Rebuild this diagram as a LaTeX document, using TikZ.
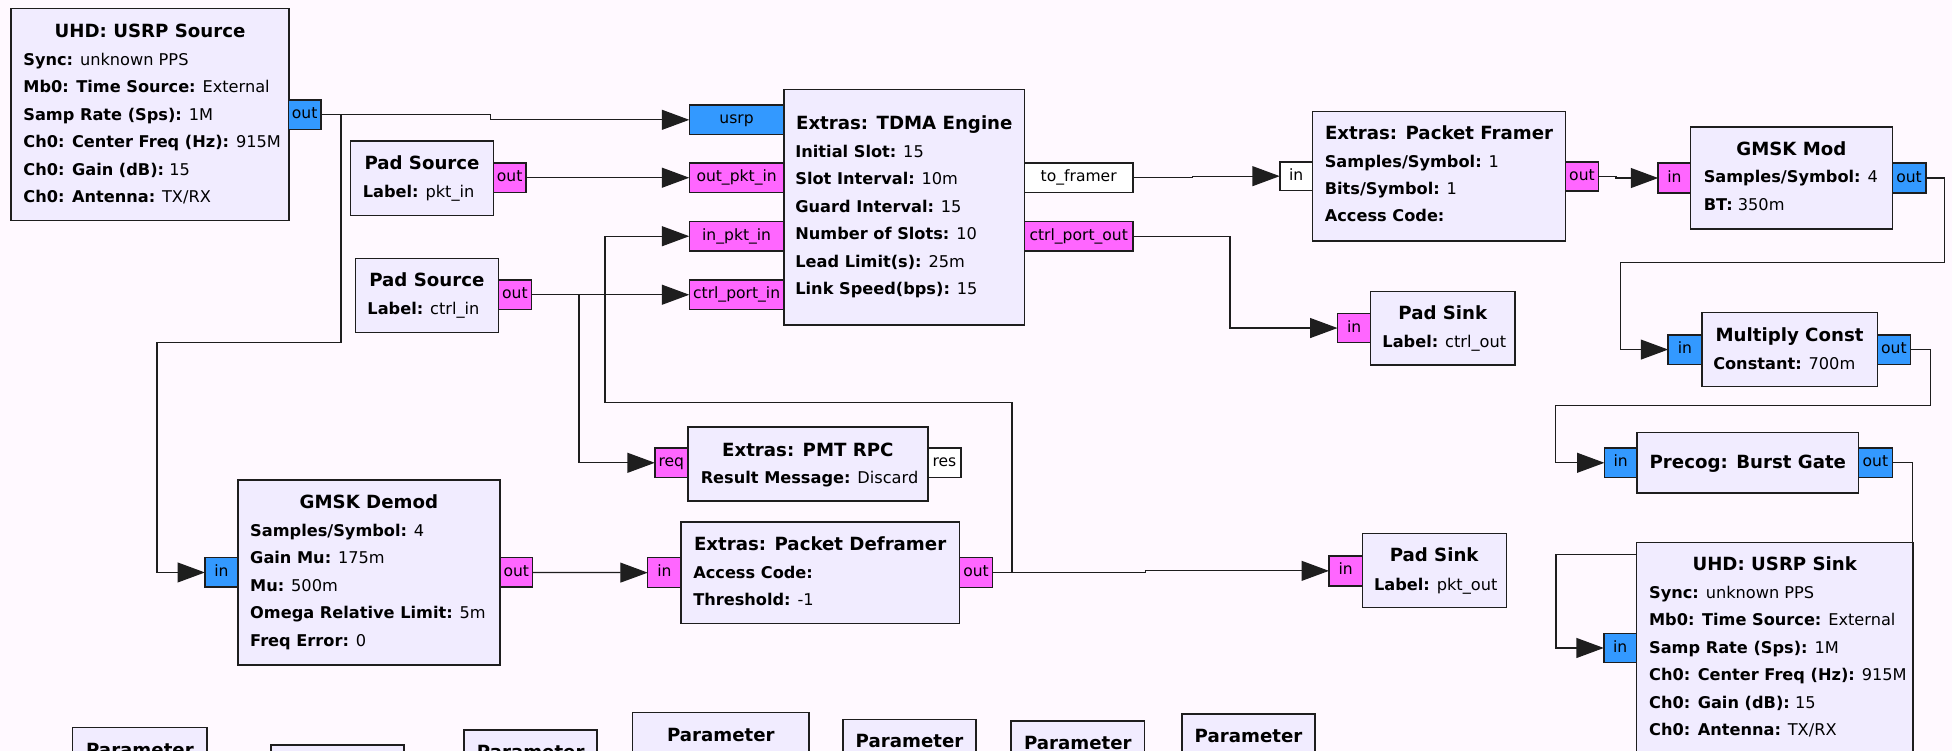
\documentclass[tikz,border=0pt]{standalone}
\usepackage{fontspec}
\setmainfont{DejaVu Sans}
\usetikzlibrary{arrows.meta}

\definecolor{canvas}{HTML}{FFF9FF}
\definecolor{blockfill}{HTML}{F1ECFF}
\definecolor{cplx}{HTML}{3399FF}
\definecolor{bytec}{HTML}{FF66FF}
\definecolor{edge}{HTML}{1E1E1E}

\pgfdeclarelayer{back}
\pgfdeclarelayer{wires}
\pgfsetlayers{back,wires,main}

\tikzset{
  blk/.style={draw=edge, fill=blockfill, line width=1.2pt, inner sep=0pt, outer sep=0pt},
  port/.style={draw=edge, line width=1.2pt, inner sep=0pt, outer sep=0pt,
    font=\fontsize{12.5}{12.5}\selectfont, text height=9pt, text depth=2.5pt},
  cport/.style={port, fill=cplx},
  bport/.style={port, fill=bytec},
  mport/.style={port, fill=white},
  wire/.style={draw=edge, line width=1pt, -{Triangle[length=22pt, width=16pt]}},
  ttl/.style={font=\bfseries\fontsize{14.6}{14.6}\selectfont, anchor=base, inner sep=0pt},
  ptext/.style={font=\fontsize{13}{13}\selectfont, anchor=base west, inner sep=0pt},
}

% block body: name, x1, y1, x2, y2
\newcommand{\blockbox}[5]{%
  \node[blk, anchor=north west, minimum width={(#4-#2)*1pt},
        minimum height={(#5-#3)*1pt}] (#1) at (#2,#3) {};}
% port: style, name, x1, y1, x2, y2, label
\newcommand{\portbox}[7]{%
  \node[#1, anchor=north west, minimum width={(#5-#3)*1pt},
        minimum height={(#6-#4)*1pt}] (#2) at (#3,#4) {#7};}
% block title: name, centre x, centre y, text
\newcommand{\blocktitle}[4]{\node[ttl] (#1-title) at (#2,{#3+5.3}) {#4};}
% parameter lines: name, x, centre y of first line, list
\newcommand{\paramlines}[4]{%
  \foreach \txt [count=\k] in {#4} {%
    \node[ptext] (#1-p\k) at (#2,{#3+4.7+22.05*(\k-1)}) {\txt};}}

\begin{document}
\begin{tikzpicture}[x=1pt,y=-1pt]
\useasboundingbox (0,0) rectangle (1568,603);
\begin{pgfonlayer}{back}
  \fill[canvas] (0,0) rectangle (1568,603);
\end{pgfonlayer}

\begin{scope}
\clip (0,0) rectangle (1568,603);

% ---------------- blocks ----------------
\blockbox{usrpsrc}{9}{6.7}{232}{177.2}
\blocktitle{usrpsrc}{120.5}{25}{UHD: USRP Source}
\paramlines{usrpsrc}{18.6}{47.7}{\textbf{Sync:} unknown PPS,
  \textbf{Mb0: Time Source:} External,
  \textbf{Samp Rate (Sps):} 1M,
  \textbf{Ch0: Center Freq (Hz):} 915M,
  \textbf{Ch0: Gain (dB):} 15,
  \textbf{Ch0: Antenna:} TX/RX}

\blockbox{padsrcA}{281.7}{113.2}{396.3}{173.2}
\blocktitle{padsrcA}{339}{131.2}{Pad Source}
\paramlines{padsrcA}{291.3}{154}{\textbf{Label:} pkt\_in}

\blockbox{padsrcB}{285.4}{207.5}{400.3}{266.9}
\blocktitle{padsrcB}{342.9}{224.9}{Pad Source}
\paramlines{padsrcB}{295}{247.6}{\textbf{Label:} ctrl\_in}

\blockbox{tdma}{629.7}{72}{823}{261}
\blocktitle{tdma}{726.4}{99}{Extras: TDMA Engine}
\paramlines{tdma}{638.7}{121.7}{\textbf{Initial Slot:} 15,
  \textbf{Slot Interval:} 10m,
  \textbf{Guard Interval:} 15,
  \textbf{Number of Slots:} 10,
  \textbf{Lead Limit(s):} 25m,
  \textbf{Link Speed(bps):} 15}

\blockbox{framer}{1054.4}{89.4}{1257.5}{193.6}
\blocktitle{framer}{1156}{106.7}{Extras: Packet Framer}
\paramlines{framer}{1064}{129.5}{\textbf{Samples/Symbol:} 1,
  \textbf{Bits/Symbol:} 1,
  \textbf{Access Code:}}

\blockbox{gmskmod}{1358}{102}{1520}{184}
\blocktitle{gmskmod}{1439}{119.6}{GMSK Mod}
\paramlines{gmskmod}{1368.4}{142}{\textbf{Samples/Symbol:} 4,
  \textbf{BT:} 350m}

\blockbox{mult}{1367}{251}{1508}{310.5}
\blocktitle{mult}{1437.5}{268.8}{Multiply Const}
\paramlines{mult}{1376}{291.8}{\textbf{Constant:} 700m}

\blockbox{burst}{1315}{347.4}{1493}{396}
\blocktitle{burst}{1404}{371}{Precog: Burst Gate}

\blockbox{usrpsink}{1314.5}{435.6}{1536.8}{640}
\blocktitle{usrpsink}{1425.6}{453}{UHD: USRP Sink}
\paramlines{usrpsink}{1324.5}{476}{\textbf{Sync:} unknown PPS,
  \textbf{Mb0: Time Source:} External,
  \textbf{Samp Rate (Sps):} 1M,
  \textbf{Ch0: Center Freq (Hz):} 915M,
  \textbf{Ch0: Gain (dB):} 15,
  \textbf{Ch0: Antenna:} TX/RX}

\blockbox{padsinkA}{1101}{234.3}{1217}{293}
\blocktitle{padsinkA}{1159}{251}{Pad Sink}
\paramlines{padsinkA}{1110.3}{274.4}{\textbf{Label:} ctrl\_out}

\blockbox{padsinkB}{1094.3}{428.5}{1210}{488}
\blocktitle{padsinkB}{1152}{446}{Pad Sink}
\paramlines{padsinkB}{1103.6}{469.3}{\textbf{Label:} pkt\_out}

\blockbox{pmtrpc}{552.5}{342.8}{745.3}{402.5}
\blocktitle{pmtrpc}{648.9}{361}{Extras: PMT RPC}
\paramlines{pmtrpc}{562.7}{383.5}{\textbf{Result Message:} Discard}

\blockbox{deframer}{547}{419.2}{770.6}{500.9}
\blocktitle{deframer}{658.8}{436.6}{Extras: Packet Deframer}
\paramlines{deframer}{556.7}{459.6}{\textbf{Access Code:},
  \textbf{Threshold:} -1}

\blockbox{gmskdemod}{191}{385.5}{401.6}{534.1}
\blocktitle{gmskdemod}{296.3}{403}{GMSK Demod}
\paramlines{gmskdemod}{200.8}{426.2}{\textbf{Samples/Symbol:} 4,
  \textbf{Gain Mu:} 175m,
  \textbf{Mu:} 500m,
  \textbf{Omega Relative Limit:} 5m,
  \textbf{Freq Error:} 0}

% parameter blocks along the bottom edge
\blockbox{paramA}{58.4}{584.5}{166.4}{650}
\blocktitle{paramA}{112.4}{602}{Parameter}
\blockbox{paramB}{217.6}{598.4}{324.5}{660}
\blockbox{paramC}{372.9}{586.4}{479.7}{650}
\blocktitle{paramC}{426.3}{604}{Parameter}
\blockbox{paramD}{508}{572.2}{650}{640}
\blocktitle{paramD}{579}{590.4}{Parameter}
\blockbox{paramE}{677.3}{577.8}{784}{640}
\blocktitle{paramE}{730.6}{595.2}{Parameter}
\blockbox{paramF}{812.3}{579.1}{919.4}{640}
\blocktitle{paramF}{865.8}{596.5}{Parameter}
\blockbox{paramG}{949.4}{573.5}{1056.4}{640}
\blocktitle{paramG}{1002.9}{591.2}{Parameter}

% ---------------- ports ----------------
\portbox{cport}{srcout}{231.6}{80.3}{257.8}{103.9}{out}
\portbox{bport}{psAout}{396.3}{131}{422.5}{154.5}{out}
\portbox{bport}{psBout}{400.3}{225}{426.9}{248.5}{out}
\portbox{cport}{tdusrp}{553.7}{84.5}{629.7}{108}{usrp}
\portbox{bport}{tdout}{553.7}{131}{629.7}{154.5}{out\_pkt\_in}
\portbox{bport}{tdin}{553.7}{178}{629.7}{201.5}{in\_pkt\_in}
\portbox{bport}{tdctrl}{553.7}{225}{629.7}{248.5}{ctrl\_port\_in}
\portbox{mport}{tdframer}{823}{131}{910}{154.5}{to\_framer}
\portbox{bport}{tdctrlout}{823}{178}{910}{201.5}{ctrl\_port\_out}
\portbox{mport}{fin}{1028}{130}{1054.4}{153}{in}
\portbox{bport}{fout}{1257.5}{130}{1284}{153.5}{out}
\portbox{bport}{gmin}{1332}{131}{1358}{155}{in}
\portbox{cport}{gmout}{1520}{131}{1547}{155}{out}
\portbox{cport}{mcin}{1340}{269}{1367}{292.6}{in}
\portbox{cport}{mcout}{1508}{269}{1534.6}{292.6}{out}
\portbox{cport}{bgin}{1288.8}{360}{1315}{383.5}{in}
\portbox{cport}{bgout}{1493}{360}{1520}{383.5}{out}
\portbox{cport}{skin}{1288.3}{508.7}{1314.5}{532.3}{in}
\portbox{bport}{psinA}{1074.4}{251.7}{1101}{275.3}{in}
\portbox{bport}{psinB}{1067.5}{446.5}{1094.3}{470.6}{in}
\portbox{bport}{req}{526}{360}{552.5}{383.5}{req}
\portbox{mport}{res}{745.3}{360}{772}{383.5}{res}
\portbox{bport}{dfin}{520.3}{448}{547}{472}{in}
\portbox{bport}{dfout}{770.6}{448}{797.4}{472}{out}
\portbox{cport}{gdin}{164.6}{448}{191}{471.7}{in}
\portbox{bport}{gdout}{401.6}{448}{427.8}{471.7}{out}
\end{scope}

% ---------------- connections ----------------
\begin{pgfonlayer}{wires}
  \coordinate (jsrc) at ([xshift=16.1pt]srcout.east);
  \coordinate (jctl) at ([xshift=38.1pt]psBout.east);
  \coordinate (jdf)  at ([xshift=15.6pt]dfout.east);

  \draw[wire] (srcout.east) -- ++(136.2,0) |- (tdusrp.west);
  \draw[wire] (jsrc) |- (126.2,275) |- (gdin.west);
  \draw[wire] (psAout.east) -- (tdout.west);
  \draw[wire] (psBout.east) -- (tdctrl.west);
  \draw[wire] (jctl) |- (req.west);
  \draw[wire] (gdout.east) -- (dfin.west);
  \draw[wire] (dfout.east) -- ++(122.6,0) |- (psinB.west);
  \draw[wire] (jdf) |- (486,323.4) |- (tdin.west);
  \draw[wire] (tdframer.east) -- ++(48,0) |- (fin.west);
  \draw[wire] (tdctrlout.east) -- ++(78,0) |- (psinA.west);
  \draw[wire] (fout.east) -- ++(14,0) |- (gmin.west);
  \draw[wire] (gmout.east) -- ++(15,0) |- (1301.5,211) |- (mcin.west);
  \draw[wire] (mcout.east) -- ++(16.1,0) |- (1249.7,325.5) |- (bgin.west);
  \draw[wire] (bgout.east) -- ++(16,0) |- (1249.8,445.2) |- (skin.west);
\end{pgfonlayer}
\end{tikzpicture}
\end{document}
